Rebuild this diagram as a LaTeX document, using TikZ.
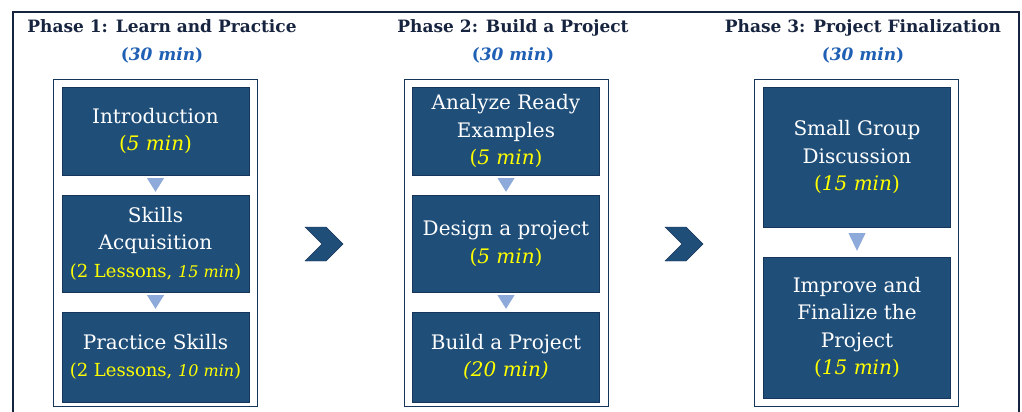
\documentclass[tikz,border=0pt]{standalone}
\usepackage{fontspec}
\setmainfont{DejaVu Serif}
\usetikzlibrary{shapes.symbols,calc,positioning}

\definecolor{navy}{HTML}{1F4E79}
\definecolor{navyline}{HTML}{15355A}
\definecolor{titleink}{HTML}{17243F}
\definecolor{phaseblue}{HTML}{1F5FB4}
\definecolor{timeyellow}{HTML}{FFFF00}
\definecolor{tricol}{HTML}{8EAADB}

\newcommand{\mins}[1]{\textcolor{timeyellow}{(\textit{#1})}}
\newcommand{\lessons}[1]{\textcolor{timeyellow}{\fontsize{18}{27.5}\selectfont(2 Lessons, {\fontsize{16}{27.5}\selectfont\itshape #1})}}

\begin{document}
\begin{tikzpicture}[
    x=1pt, y=-1pt,
    frame/.style   = {draw=titleink, line width=1.6pt},
    column/.style  = {draw=navyline, line width=1pt, fill=white,
                      minimum width=204pt, minimum height=327pt},
    stage/.style   = {draw=navyline, fill=navy, text=white, align=center,
                      minimum width=187pt, inner sep=2pt,
                      font=\fontsize{20}{27.5}\selectfont},
    phase/.style   = {text=titleink, align=center,
                      font=\bfseries\fontsize{17}{28}\selectfont},
    chevron/.style = {shape=signal, signal from=west, signal to=east,
                      fill=navy, draw=navyline, inner sep=0pt,
                      minimum width=38pt, minimum height=34pt},
    tri/.style     = {fill=tricol}
  ]

  \useasboundingbox (0,0) rectangle (1022,412);

  % outer frame, open at the bottom
  \draw[frame] (13,420) |- (1019,12) -- (1019,420);

  % phase headings
  \node[phase] (P1) at (162,41) {Phase 1: Learn and Practice\\\textcolor{phaseblue}{(\textit{30 min})}};
  \node[phase] (P2) at (513,41) {Phase 2: Build a Project\\\textcolor{phaseblue}{(\textit{30 min})}};
  \node[phase] (P3) at (863,41) {Phase 3: Project Finalization\\\textcolor{phaseblue}{(\textit{30 min})}};

  % white columns
  \node[column] (C1) at (155,242.5) {};
  \node[column] (C2) at (506.5,242.5) {};
  \node[column] (C3) at (856,242.5) {};

  % phase 1
  \node[stage, minimum height=88pt] (INTRO) at (155.5,131) {Introduction\\\mins{5 min}};
  \node[stage, minimum height=97pt] (SKILL) at (155.5,243.5) {Skills\\Acquisition\\\lessons{15 min}};
  \node[stage, minimum height=90pt] (PRACT) at (155.5,357) {Practice Skills\\\lessons{10 min}};

  % phase 2
  \node[stage, minimum height=88pt] (ANLZ) at (506,131) {Analyze Ready\\Examples\\\mins{5 min}};
  \node[stage, minimum height=97pt] (DSGN) at (506,243.5) {Design a project\\\mins{5 min}};
  \node[stage, minimum height=90pt] (BUILD) at (506,357) {Build a Project\\\textcolor{timeyellow}{\itshape(20 min)}};

  % phase 3
  \node[stage, minimum height=140pt] (DISC) at (857,157) {Small Group\\Discussion\\\mins{15 min}};
  \node[stage, minimum height=141pt] (FINAL) at (857,327.5) {Improve and\\Finalize the\\Project\\\mins{15 min}};

  % small down triangles between stages
  \foreach \a/\b/\g in {INTRO/SKILL/3, SKILL/PRACT/3, ANLZ/DSGN/3, DSGN/BUILD/3, DISC/FINAL/6} {
    \fill[tri] ($(\a.south)+(-8.5,\g)$) -- ($(\a.south)+(8.5,\g)$) -- ($(\b.north)+(0,-\g)$) -- cycle;
  }

  % chevrons between phases
  \node[chevron] (CH1) at (324,244) {};
  \node[chevron] (CH2) at (684,244) {};

\end{tikzpicture}
\end{document}
